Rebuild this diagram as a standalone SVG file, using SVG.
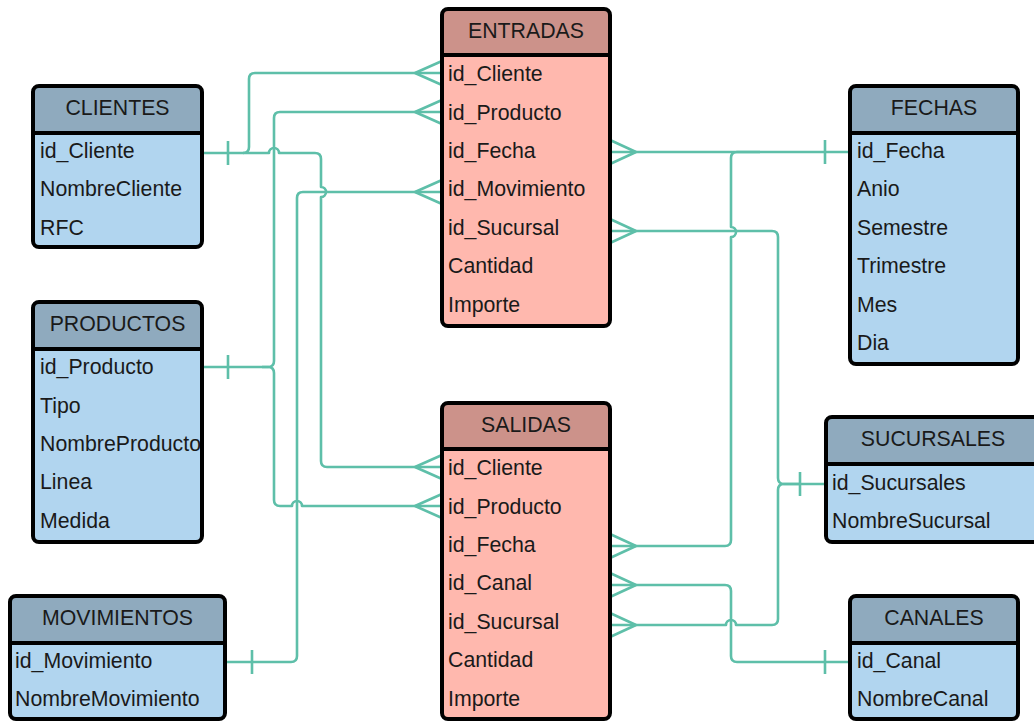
<svg xmlns="http://www.w3.org/2000/svg" width="1034" height="721" viewBox="0 0 1034 721">
<style>
.c{fill:none;stroke:#5ebfa9;stroke-width:2.6;stroke-linecap:butt;stroke-linejoin:round}
.bb{fill:#b1d5ef}
.bh{fill:#8faabe}
.rb{fill:#ffb8ae}
.rh{fill:#cc928a}
.o{fill:none;stroke:#000;stroke-width:4}
.d{stroke:#000;stroke-width:4}
.t{font-family:"Liberation Sans",Arial,sans-serif;font-size:21.3px;fill:#1a1a1a}
.h{font-family:"Liberation Sans",Arial,sans-serif;font-size:21.3px;fill:#1a1a1a;text-anchor:middle}
</style>
<rect width="1034" height="721" fill="#fff"/>
<g id="connectors">
<!-- CLIENTES -> ENTRADAS.id_Cliente -->
<path class="c" d="M203,153 H243 Q249,153 249,147 V79 Q249,73 255,73 H442"/>
<!-- CLIENTES -> SALIDAS.id_Cliente -->
<path class="c" d="M243,153 H269 a5,5 0 0 1 10,0 H315 Q321,153 321,159 V187 a5,5 0 0 1 0,10 V461 Q321,467 327,467 H442"/>
<!-- PRODUCTOS -> ENTRADAS.id_Producto -->
<path class="c" d="M203,367 H268 Q274,367 274,361 V118 Q274,112 280,112 H442"/>
<!-- PRODUCTOS -> SALIDAS.id_Producto -->
<path class="c" d="M262,367 H268 Q274,367 274,373 V500 Q274,506 280,506 H292 a5,5 0 0 1 10,0 H442"/>
<!-- MOVIMIENTOS -> ENTRADAS.id_Movimiento -->
<path class="c" d="M226,662 H291 Q297,662 297,656 V198 Q297,192 303,192 H442"/>
<!-- ENTRADAS.id_Fecha -> FECHAS -->
<path class="c" d="M610,152 H850"/>
<!-- SALIDAS.id_Fecha -> FECHAS -->
<path class="c" d="M610,546 H725 Q731,546 731,540 V237 a5,5 0 0 0 0,-10 V158 Q731,152 737,152 H760"/>
<!-- ENTRADAS.id_Sucursal -> SUCURSALES -->
<path class="c" d="M610,231 H772 Q778,231 778,237 V478 Q778,484 784,484 H826"/>
<!-- SALIDAS.id_Sucursal -> SUCURSALES -->
<path class="c" d="M610,625 H726 a5,5 0 0 1 10,0 H772 Q778,625 778,619 V490 Q778,484 784,484 H800"/>
<!-- SALIDAS.id_Canal -> CANALES -->
<path class="c" d="M610,585 H725 Q731,585 731,591 V656 Q731,662 737,662 H850"/>
<!-- one-ticks -->
<path class="c" d="M228,141 V165 M228,355 V379 M252,650 V674 M825,140 V164 M800,472 V496 M825,650 V674"/>
<!-- crow's feet left side -->
<path class="c" d="M415,73 L442,61 M415,73 L442,85 M415,112 L442,100 M415,112 L442,124 M415,192 L442,180 M415,192 L442,204 M415,467 L442,455 M415,467 L442,479 M415,506 L442,494 M415,506 L442,518"/>
<!-- crow's feet right side -->
<path class="c" d="M636,152 L610,140 M636,152 L610,164 M636,231 L610,219 M636,231 L610,243 M636,546 L610,534 M636,546 L610,558 M636,585 L610,573 M636,585 L610,597 M636,625 L610,613 M636,625 L610,637"/>
</g>

<g id="ENTRADAS">
<rect class="rb" x="442" y="9" width="168" height="317" rx="6"/>
<path class="rh" d="M442,55 V15 Q442,9 448,9 H604 Q610,9 610,15 V55 Z"/>
<line class="d" x1="442" y1="55" x2="610" y2="55"/>
<text class="h" x="526" y="38">ENTRADAS</text>
<text class="t" x="448" y="81">id_Cliente</text>
<text class="t" x="448" y="120">id_Producto</text>
<text class="t" x="448" y="158">id_Fecha</text>
<text class="t" x="448" y="196">id_Movimiento</text>
<text class="t" x="448" y="235">id_Sucursal</text>
<text class="t" x="448" y="273">Cantidad</text>
<text class="t" x="448" y="312">Importe</text>
<rect class="o" x="442" y="9" width="168" height="317" rx="6"/>
</g>

<g id="SALIDAS">
<rect class="rb" x="442" y="403" width="168" height="316" rx="6"/>
<path class="rh" d="M442,449 V409 Q442,403 448,403 H604 Q610,403 610,409 V449 Z"/>
<line class="d" x1="442" y1="449" x2="610" y2="449"/>
<text class="h" x="526" y="432">SALIDAS</text>
<text class="t" x="448" y="475">id_Cliente</text>
<text class="t" x="448" y="514">id_Producto</text>
<text class="t" x="448" y="552">id_Fecha</text>
<text class="t" x="448" y="590">id_Canal</text>
<text class="t" x="448" y="629">id_Sucursal</text>
<text class="t" x="448" y="667">Cantidad</text>
<text class="t" x="448" y="706">Importe</text>
<rect class="o" x="442" y="403" width="168" height="316" rx="6"/>
</g>

<g id="CLIENTES">
<rect class="bb" x="33" y="86" width="169" height="161" rx="6"/>
<path class="bh" d="M33,133 V92 Q33,86 39,86 H196 Q202,86 202,92 V133 Z"/>
<line class="d" x1="33" y1="133" x2="202" y2="133"/>
<text class="h" x="117.5" y="115">CLIENTES</text>
<text class="t" x="40" y="158">id_Cliente</text>
<text class="t" x="40" y="196">NombreCliente</text>
<text class="t" x="40" y="235">RFC</text>
<rect class="o" x="33" y="86" width="169" height="161" rx="6"/>
</g>

<g id="PRODUCTOS">
<rect class="bb" x="33" y="302" width="169" height="240" rx="6"/>
<path class="bh" d="M33,349 V308 Q33,302 39,302 H196 Q202,302 202,308 V349 Z"/>
<line class="d" x1="33" y1="349" x2="202" y2="349"/>
<text class="h" x="117.5" y="331">PRODUCTOS</text>
<text class="t" x="40" y="374">id_Producto</text>
<text class="t" x="40" y="413">Tipo</text>
<text class="t" x="40" y="451">NombreProducto</text>
<text class="t" x="40" y="489">Linea</text>
<text class="t" x="40" y="528">Medida</text>
<rect class="o" x="33" y="302" width="169" height="240" rx="6"/>
</g>

<g id="MOVIMIENTOS">
<rect class="bb" x="10" y="596" width="215" height="123" rx="6"/>
<path class="bh" d="M10,643 V602 Q10,596 16,596 H219 Q225,596 225,602 V643 Z"/>
<line class="d" x1="10" y1="643" x2="225" y2="643"/>
<text class="h" x="117.5" y="625">MOVIMIENTOS</text>
<text class="t" x="15" y="668">id_Movimiento</text>
<text class="t" x="15" y="706">NombreMovimiento</text>
<rect class="o" x="10" y="596" width="215" height="123" rx="6"/>
</g>

<g id="FECHAS">
<rect class="bb" x="850" y="86" width="168" height="278" rx="6"/>
<path class="bh" d="M850,133 V92 Q850,86 856,86 H1012 Q1018,86 1018,92 V133 Z"/>
<line class="d" x1="850" y1="133" x2="1018" y2="133"/>
<text class="h" x="934" y="115">FECHAS</text>
<text class="t" x="857" y="158">id_Fecha</text>
<text class="t" x="857" y="196">Anio</text>
<text class="t" x="857" y="235">Semestre</text>
<text class="t" x="857" y="273">Trimestre</text>
<text class="t" x="857" y="312">Mes</text>
<text class="t" x="857" y="350">Dia</text>
<rect class="o" x="850" y="86" width="168" height="278" rx="6"/>
</g>

<g id="SUCURSALES">
<rect class="bb" x="826" y="417" width="214" height="125" rx="6"/>
<path class="bh" d="M826,464 V423 Q826,417 832,417 H1034 Q1040,417 1040,423 V464 Z"/>
<line class="d" x1="826" y1="464" x2="1040" y2="464"/>
<text class="h" x="933" y="446">SUCURSALES</text>
<text class="t" x="832" y="490">id_Sucursales</text>
<text class="t" x="832" y="528">NombreSucursal</text>
<rect class="o" x="826" y="417" width="214" height="125" rx="6"/>
</g>

<g id="CANALES">
<rect class="bb" x="850" y="596" width="168" height="123" rx="6"/>
<path class="bh" d="M850,643 V602 Q850,596 856,596 H1012 Q1018,596 1018,602 V643 Z"/>
<line class="d" x1="850" y1="643" x2="1018" y2="643"/>
<text class="h" x="934" y="625">CANALES</text>
<text class="t" x="857" y="668">id_Canal</text>
<text class="t" x="857" y="706">NombreCanal</text>
<rect class="o" x="850" y="596" width="168" height="123" rx="6"/>
</g>
</svg>
